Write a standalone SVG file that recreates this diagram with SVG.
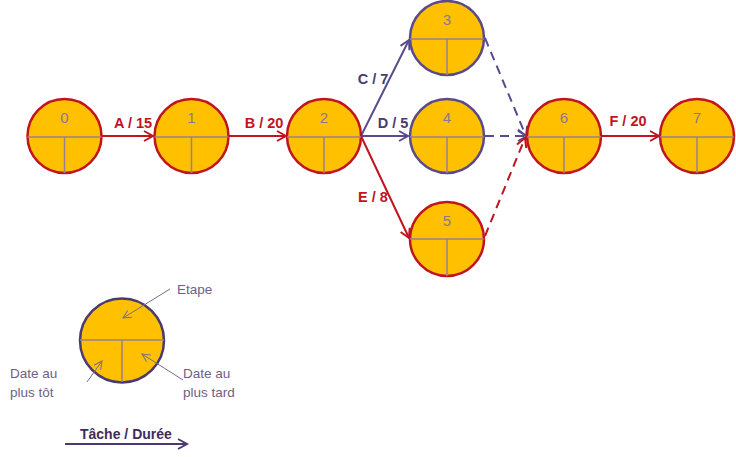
<svg xmlns="http://www.w3.org/2000/svg" width="736" height="457" viewBox="0 0 736 457">
<defs>
<style>
.node{fill:#FFC000;stroke-width:2.5}
.red{stroke:#C0141E}
.pur{stroke:#5A4A8C}
.div{stroke:#9C7F8C;stroke-width:1.5;fill:none}
.num{font-family:"Liberation Sans",Arial,sans-serif;font-size:15px;fill:#8A7890;text-anchor:middle}
.lbl{font-family:"Liberation Sans",Arial,sans-serif;font-size:14.5px;font-weight:bold;text-anchor:middle}
.leg{font-family:"Liberation Sans",Arial,sans-serif;font-size:13.5px;fill:#6E5F86}
.c{fill:none;stroke-width:2}
</style>
<marker id="mr" markerUnits="userSpaceOnUse" markerWidth="14" markerHeight="14" refX="11" refY="6" orient="auto" viewBox="0 0 14 12">
<path d="M2,1 L11,6 L2,11" fill="none" stroke="#C0141E" stroke-width="2"/>
</marker>
<marker id="mp" markerUnits="userSpaceOnUse" markerWidth="14" markerHeight="14" refX="11" refY="6" orient="auto" viewBox="0 0 14 12">
<path d="M2,1 L11,6 L2,11" fill="none" stroke="#5A4A8C" stroke-width="2"/>
</marker>
<marker id="md" markerUnits="userSpaceOnUse" markerWidth="14" markerHeight="14" refX="11" refY="6" orient="auto" viewBox="0 0 14 12">
<path d="M2,1 L11,6 L2,11" fill="none" stroke="#4A3A70" stroke-width="2"/>
</marker>
<marker id="mt" markerUnits="userSpaceOnUse" markerWidth="12" markerHeight="12" refX="10" refY="5" orient="auto" viewBox="0 0 12 10">
<path d="M2,1 L10,5 L2,9" fill="none" stroke="#7A6C90" stroke-width="1"/>
</marker>
</defs>
<rect width="736" height="457" fill="#FFFFFF"/>
<g id="connectors">
<line class="c red" x1="102" y1="136" x2="153" y2="136" marker-end="url(#mr)"/>
<line class="c red" x1="229" y1="136" x2="286" y2="136" marker-end="url(#mr)"/>
<line class="c pur" x1="361" y1="136" x2="409" y2="40" marker-end="url(#mp)"/>
<line class="c pur" x1="361" y1="136" x2="408" y2="136" marker-end="url(#mp)"/>
<line class="c red" x1="361" y1="136" x2="409" y2="238" marker-end="url(#mr)"/>
<line class="c pur" x1="485" y1="38" x2="526" y2="136" stroke-dasharray="9,6" marker-end="url(#mp)"/>
<line class="c pur" x1="485" y1="136" x2="527" y2="136" stroke-dasharray="9,6" marker-end="url(#mp)"/>
<line class="c red" x1="485" y1="236" x2="525" y2="138" stroke-dasharray="9,6" marker-end="url(#mr)"/>
<line class="c red" x1="601" y1="136" x2="659" y2="136" marker-end="url(#mr)"/>
<text class="lbl" x="133" y="128" fill="#C0141E">A / 15</text>
<text class="lbl" x="264" y="128" fill="#C0141E">B / 20</text>
<text class="lbl" x="373" y="84" fill="#4A3A70">C / 7</text>
<text class="lbl" x="393" y="128" fill="#4A3A70">D / 5</text>
<text class="lbl" x="373" y="202" fill="#C0141E">E / 8</text>
<text class="lbl" x="628" y="126" fill="#C0141E">F / 20</text>
</g>
<g id="n0"><circle class="node red" cx="64.5" cy="136" r="37"/><path class="div" d="M27.5,137 H101.5 M64.5,137 V173"/><text class="num" x="64.5" y="123">0</text></g>
<g id="n1"><circle class="node red" cx="191.5" cy="136" r="37"/><path class="div" d="M154.5,137 H228.5 M191.5,137 V173"/><text class="num" x="191.5" y="123">1</text></g>
<g id="n2"><circle class="node red" cx="324" cy="136" r="37"/><path class="div" d="M287,137 H361 M324,137 V173"/><text class="num" x="324" y="123">2</text></g>
<g id="n3"><circle class="node pur" cx="447" cy="38" r="37"/><path class="div" d="M410,39 H484 M447,39 V75"/><text class="num" x="447" y="25">3</text></g>
<g id="n4"><circle class="node pur" cx="447" cy="136" r="37"/><path class="div" d="M410,137 H484 M447,137 V173"/><text class="num" x="447" y="123">4</text></g>
<g id="n5"><circle class="node red" cx="447" cy="239" r="37"/><path class="div" d="M410,239 H484 M447,239 V276"/><text class="num" x="447" y="226">5</text></g>
<g id="n6"><circle class="node red" cx="564" cy="136" r="37"/><path class="div" d="M527,137 H601 M564,137 V173"/><text class="num" x="564" y="123">6</text></g>
<g id="n7"><circle class="node red" cx="697" cy="136" r="37"/><path class="div" d="M660,137 H734 M697,137 V173"/><text class="num" x="697" y="123">7</text></g>
<g id="legend">
<circle cx="122" cy="340.5" r="42" fill="#FFC000" stroke="#4A3A70" stroke-width="2.5"/>
<path class="div" d="M80,340 H164 M122,340 V382"/>
<line x1="170" y1="289" x2="123" y2="318" stroke="#7A6C90" stroke-width="1" marker-end="url(#mt)"/>
<line x1="87" y1="382" x2="102" y2="361" stroke="#7A6C90" stroke-width="1" marker-end="url(#mt)"/>
<line x1="183" y1="380" x2="142" y2="354" stroke="#7A6C90" stroke-width="1" marker-end="url(#mt)"/>
<text class="leg" x="177" y="294">Etape</text>
<text class="leg" x="10" y="378">Date au</text>
<text class="leg" x="10" y="397">plus tôt</text>
<text class="leg" x="183" y="378">Date au</text>
<text class="leg" x="183" y="397">plus tard</text>
<text x="80" y="439" font-family="'Liberation Sans',Arial,sans-serif" font-size="14" font-weight="bold" fill="#3E2D5C">Tâche / Durée</text>
<line class="c" stroke="#4A3A70" x1="65" y1="444" x2="187" y2="444" marker-end="url(#md)"/>
</g>
</svg>
